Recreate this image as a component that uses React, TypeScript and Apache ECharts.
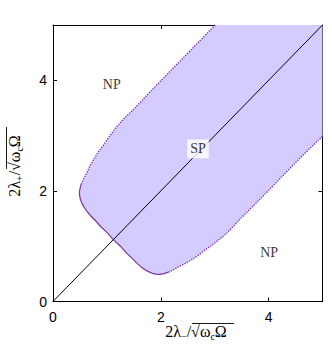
import React, { useEffect, useRef } from "react";
import * as echarts from "echarts";

// Boundary of the SP region (x = 2λ-/√(ωcΩ), y = 2λ+/√(ωcΩ))
const upperX = [3.01, 2.6, 2.2, 1.85, 1.49, 1.32, 1.18, 1.05, 0.93, 0.83, 0.75, 0.68, 0.625, 0.57, 0.53];
const upperY = [5.0, 4.59, 4.19, 3.84, 3.47, 3.31, 3.16, 2.99, 2.82, 2.69, 2.56, 2.44, 2.32, 2.23, 2.14];
const cornerX = [0.53, 0.505, 0.49, 0.495, 0.51, 0.54, 0.58, 0.63, 0.69, 0.78, 0.87, 1.0, 1.12, 1.25, 1.37, 1.47, 1.56, 1.63, 1.7, 1.77, 1.84, 1.91, 1.98, 2.06, 2.14];
const cornerY = [2.14, 2.06, 1.98, 1.91, 1.84, 1.77, 1.7, 1.63, 1.56, 1.47, 1.37, 1.25, 1.12, 1.0, 0.87, 0.78, 0.69, 0.63, 0.58, 0.54, 0.51, 0.495, 0.49, 0.505, 0.53];
const lowerX = [2.14, 2.23, 2.32, 2.44, 2.56, 2.69, 2.82, 2.99, 3.16, 3.31, 3.47, 3.84, 4.19, 4.59, 5.0];
const lowerY = [0.53, 0.57, 0.625, 0.68, 0.75, 0.83, 0.93, 1.05, 1.18, 1.32, 1.49, 1.85, 2.2, 2.6, 2.99];
const closeX = [5.0];
const closeY = [5.0];

const diagX = [0, 5];
const diagY = [0, 5];

const regionLabels = ["NP", "NP", "SP"];
const labelX = [1.09, 4.01, 2.69];
const labelY = [3.92, 0.88, 2.76];

const tickLabels = ["0", "2", "4"];

const zip = (xs: number[], ys: number[]) => xs.map((x, i) => [x, ys[i]]);

export default function App() {
  const ref = useRef<HTMLDivElement>(null);
  useEffect(() => {
    document.body.style.margin = "0";
    if (!ref.current) return;
    const chart = echarts.init(ref.current, undefined, { renderer: "svg" });
    const poly = [
      ...zip(upperX, upperY),
      ...zip(cornerX, cornerY),
      ...zip(lowerX, lowerY),
      ...zip(closeX, closeY),
    ];
    const serif = "Liberation Serif";
    const sans = "Liberation Sans";
    const fmt = (v: number) => (tickLabels.includes(String(v)) ? String(v) : "");
    const baseAxis = {
      type: "value" as const,
      min: 0,
      max: 5,
      interval: 2,
      splitLine: { show: false },
      axisLine: { show: true, onZero: false, lineStyle: { color: "#000", width: 1 } },
      axisTick: { show: true, inside: true, length: 4, lineStyle: { color: "#000" } },
    };
    const rich = {
      m: { fontFamily: serif, fontSize: 16, color: "#000", lineHeight: 20, verticalAlign: "middle" },
      s: { fontFamily: serif, fontSize: 10, color: "#000", lineHeight: 20, verticalAlign: "bottom" },
    };
    chart.setOption({
      animation: false,
      grid: { left: 53, right: 9.5, top: 25, bottom: 53.5 },
      xAxis: [
        {
          ...baseAxis,
          position: "bottom",
          axisLabel: { formatter: fmt, fontFamily: sans, fontSize: 14, color: "#000", margin: 8 },
        },
        { ...baseAxis, position: "top", axisLabel: { show: false } },
      ],
      yAxis: [
        {
          ...baseAxis,
          position: "left",
          axisLabel: { formatter: fmt, fontFamily: sans, fontSize: 14, color: "#000", margin: 6 },
        },
        { ...baseAxis, position: "right", axisLabel: { show: false } },
      ],
      graphic: [
        {
          type: "text",
          x: 196,
          y: 331,
          style: {
            text: "{m|2λ}{s|−}{m|/√}{m|ω}{s|c}{m|Ω}",
            rich,
            align: "center",
            verticalAlign: "middle",
          },
        },
        {
          type: "line",
          shape: { x1: 192, y1: 323.5, x2: 234, y2: 323.5 },
          style: { stroke: "#000", lineWidth: 0.9 },
        },
        {
          type: "text",
          x: 14,
          y: 166,
          rotation: Math.PI / 2,
          style: {
            text: "{m|2λ}{s|+}{m|/√}{m|ω}{s|c}{m|Ω}",
            rich,
            align: "center",
            verticalAlign: "middle",
          },
        },
        {
          type: "line",
          shape: { x1: 6.5, y1: 127, x2: 6.5, y2: 169 },
          style: { stroke: "#000", lineWidth: 0.9 },
        },
      ],
      series: [
        {
          type: "custom",
          z: 1,
          silent: true,
          data: [[0, 0]],
          renderItem: (params: any, api: any) => ({
            type: "polygon",
            shape: { points: poly.map((p) => api.coord(p)) },
            style: { fill: "#d4ccff", stroke: "none" },
          }),
        },
        {
          type: "line",
          z: 3,
          data: zip(upperX, upperY),
          showSymbol: false,
          lineStyle: { color: "#7a2cc4", width: 1.4, type: [1.3, 1.3] },
        },
        {
          type: "line",
          z: 3,
          data: zip(cornerX, cornerY),
          showSymbol: false,
          lineStyle: { color: "#7a2fa8", width: 1.2 },
        },
        {
          type: "line",
          z: 3,
          data: zip(lowerX, lowerY),
          showSymbol: false,
          lineStyle: { color: "#7a2cc4", width: 1.4, type: [1.3, 1.3] },
        },
        {
          type: "line",
          z: 4,
          data: zip(diagX, diagY),
          showSymbol: false,
          lineStyle: { color: "#000", width: 1 },
        },
        {
          type: "scatter",
          z: 5,
          symbolSize: 0,
          data: regionLabels.map((n, i) => ({
            name: n,
            value: [labelX[i], labelY[i]],
            label: n === "SP" ? { backgroundColor: "#fff", padding: [3, 3, 2, 3] } : {},
          })),
          label: {
            show: true,
            position: "inside",
            formatter: (p: any) => p.name,
            fontFamily: serif,
            fontSize: 14,
            color: "#000",
          },
          emphasis: { disabled: true },
        },
      ],
    });
    return () => chart.dispose();
  }, []);
  return <div ref={ref} style={{ width: 332, height: 355 }} />;
}
